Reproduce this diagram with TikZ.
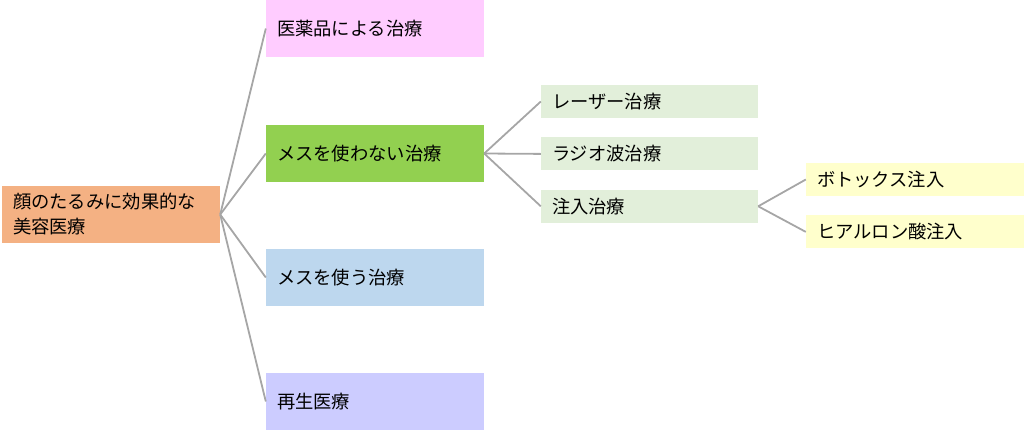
\documentclass[tikz,border=0pt]{standalone}
\usepackage{fontspec}
\setmainfont{Noto Sans CJK JP}
\usepackage{tikz}
\usetikzlibrary{positioning}
\definecolor{rootfill}{HTML}{F4B183}
\definecolor{pinkfill}{HTML}{FFCCFF}
\definecolor{greenfill}{HTML}{92D050}
\definecolor{bluefill}{HTML}{BDD7EE}
\definecolor{lilacfill}{HTML}{CCCCFF}
\definecolor{subfill}{HTML}{E2EFDA}
\definecolor{leaffill}{HTML}{FFFFCC}
\definecolor{edgegray}{HTML}{A6A6A6}

\begin{document}
\begin{tikzpicture}[x=1pt,y=-1pt,
  box/.style={rectangle,inner xsep=11pt,inner ysep=0pt,align=left,font=\fontsize{18.3}{25}\selectfont},
  bigbox/.style={box,text width=196pt,minimum height=57pt},
  subbox/.style={box,text width=195pt,minimum height=33pt},
  leafbox/.style={box,text width=196pt,minimum height=33pt,fill=leaffill},
  edge/.style={draw=edgegray,line width=1.8pt}]
\useasboundingbox (0,0) rectangle (1024,431);
\node(root)[bigbox,fill=rootfill] at (111,214.5) {顔のたるみに効果的な\\美容医療};
\node(m1)[bigbox,fill=pinkfill] at (375,28.5) {医薬品による治療};
\node(m2)[bigbox,fill=greenfill] at (375,153.5) {メスを使わない治療};
\node(m3)[bigbox,fill=bluefill] at (375,277.5) {メスを使う治療};
\node(m4)[bigbox,fill=lilacfill] at (375,401.5) {再生医療};
\node(s1)[subbox,fill=subfill] at (649.5,101.5) {レーザー治療};
\node(s2)[subbox,fill=subfill,below=19pt of s1] {ラジオ波治療};
\node(s3)[subbox,fill=subfill,below=19pt of s2] {注入治療};
\node(t1)[leafbox] at (915,179.5) {ボトックス注入};
\node(t2)[leafbox,below=19pt of t1] {ヒアルロン酸注入};
\draw [edge] (root.east) to (m1.west);
\draw [edge] (root.east) to (m2.west);
\draw [edge] (root.east) to (m3.west);
\draw [edge] (root.east) to (m4.west);
\draw [edge] (m2.east) to (s1.west);
\draw [edge] (m2.east) to (s2.west);
\draw [edge] (m2.east) to (s3.west);
\draw [edge] (s3.east) to (t1.west);
\draw [edge] (s3.east) to (t2.west);
\end{tikzpicture}
\end{document}
